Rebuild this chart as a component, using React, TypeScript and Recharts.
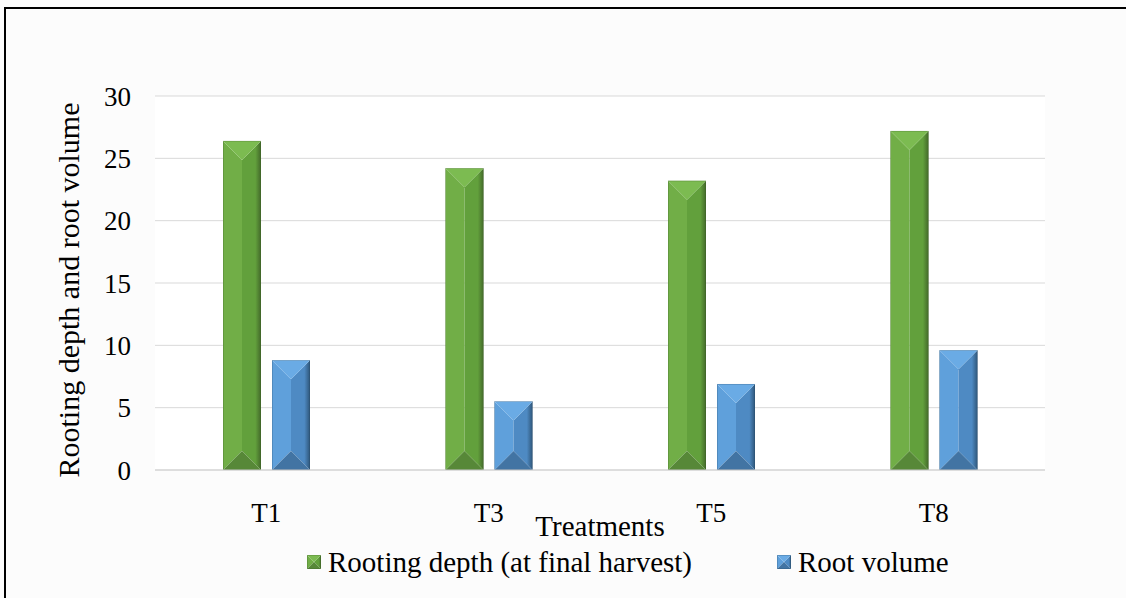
import { BarChart, Bar, XAxis, YAxis, CartesianGrid } from 'recharts';

const treatments = ['T1', 'T3', 'T5', 'T8'];
const rootingDepth = [26.4, 24.2, 23.2, 27.2];
const rootVolume = [8.8, 5.5, 6.9, 9.6];
const yTicks = [0, 5, 10, 15, 20, 25, 30];

const seriesNames = ['Rooting depth (at final harvest)', 'Root volume'];
const yTitle = 'Rooting depth and root volume';
const xTitle = 'Treatments';

// pyramid-bevel palettes
const greenBevel = { id: 'g', left: '#71ae47', right: '#62a03c', rightDark: '#43692a', top: '#7cbb51', bottom: '#578838', edge: '#3a5a24' };
const blueBevel = { id: 'b', left: '#5fa0db', right: '#4e8ac3', rightDark: '#2f5679', top: '#6aabe5', bottom: '#4274a3', edge: '#264766' };

const chartData = treatments.map((t, i) => ({
  name: t,
  depth: rootingDepth[i],
  volume: rootVolume[i],
}));

type Pal = typeof greenBevel;

let gradCount = 0;

function bevelParts(x: number, y: number, w: number, h: number, pal: Pal) {
  const b = Math.max(0, Math.min(w / 2, h / 2));
  const cx = x + w / 2;
  const pts = (a: number[][]) => a.map((p) => p.join(',')).join(' ');
  const gid = `rg-${pal.id}-${gradCount++}`;
  return (
    <g>
      <defs>
        <linearGradient id={gid} x1="0" y1="0" x2="1" y2="0">
          <stop offset="0%" stopColor={pal.right} />
          <stop offset="70%" stopColor={pal.right} />
          <stop offset="100%" stopColor={pal.rightDark} />
        </linearGradient>
      </defs>
      <polygon points={pts([[x, y], [cx, y + b], [cx, y + h - b], [x, y + h]])} fill={pal.left} />
      <polygon points={pts([[x + w, y], [cx, y + b], [cx, y + h - b], [x + w, y + h]])} fill={`url(#${gid})`} />
      <polygon points={pts([[x, y], [x + w, y], [cx, y + b]])} fill={pal.top} />
      <polygon points={pts([[x, y + h], [x + w, y + h], [cx, y + h - b]])} fill={pal.bottom} />
      <rect x={x + 0.25} y={y + 0.25} width={w - 0.5} height={h - 0.5} fill="none" stroke={pal.edge} strokeOpacity={0.5} strokeWidth={0.5} />
    </g>
  );
}

const makeShape = (pal: Pal) => (props: any) => {
  const { x, y, width, height } = props;
  if (!height || height <= 0) return <g />;
  return bevelParts(x, y, width, height, pal);
};

const fontFamily = "'Liberation Serif', 'Times New Roman', serif";

// rotated y title, placed from the axis viewBox
const YTitle = (props: any) => {
  const vb = props.viewBox || {};
  const cx = vb.x + 68;
  const cy = vb.y + vb.height / 2 + 7;
  return (
    <text
      x={cx}
      y={cy}
      transform={`rotate(-90, ${cx}, ${cy})`}
      textAnchor="middle"
      dominantBaseline="central"
      fontSize={30}
      fill="#000"
      fontFamily={fontFamily}
    >
      {yTitle}
    </text>
  );
};

export default function App() {
  return (
    <div style={{ position: 'absolute', left: 0, top: 0, width: 1126, height: 598, background: '#fcfcfc', overflow: 'hidden', fontFamily }}>
      <div style={{ position: 'absolute', left: 4, top: 7, width: 1140, height: 620, border: '2px solid #000', boxSizing: 'border-box' }} />
      <div style={{ position: 'absolute', left: 0, top: 0 }}>
        <BarChart
          width={1126}
          height={598}
          data={chartData}
          margin={{ top: 96, right: 81, bottom: 0, left: 0 }}
          barSize={38}
          barGap={11}
        >
          <CartesianGrid vertical={false} stroke="#d9d9d9" fill="#ffffff" />
          <XAxis
            dataKey="name"
            height={128}
            axisLine={{ stroke: '#d0d0d0' }}
            tickLine={false}
            tickMargin={27}
            tick={{ fontSize: 27, fill: '#000', fontFamily }}
            label={{ value: xTitle, position: 'insideBottom', offset: 62, fontSize: 29, fill: '#000', fontFamily }}
          />
          <YAxis
            width={155}
            domain={[0, 30]}
            ticks={yTicks}
            axisLine={false}
            tickLine={false}
            tickMargin={18}
            tick={{ fontSize: 27, fill: '#000', fontFamily }}
            label={<YTitle />}
          />
          <Bar dataKey="depth" name={seriesNames[0]} fill={greenBevel.left} shape={makeShape(greenBevel)} isAnimationActive={false} />
          <Bar dataKey="volume" name={seriesNames[1]} fill={blueBevel.left} shape={makeShape(blueBevel)} isAnimationActive={false} />
        </BarChart>
      </div>
      <div style={{ position: 'absolute', left: 307, top: 544, height: 36, display: 'flex', alignItems: 'center', fontSize: 29, color: '#000', fontFamily }}>
        {[greenBevel, blueBevel].map((pal, i) => (
          <div key={i} style={{ display: 'flex', alignItems: 'center', marginRight: i === 0 ? 85 : 0 }}>
            <svg width={14} height={14} style={{ marginRight: 7 }}>
              {bevelParts(0, 0, 14, 14, pal)}
            </svg>
            <span style={{ lineHeight: '36px', whiteSpace: 'nowrap' }}>{seriesNames[i]}</span>
          </div>
        ))}
      </div>
    </div>
  );
}
